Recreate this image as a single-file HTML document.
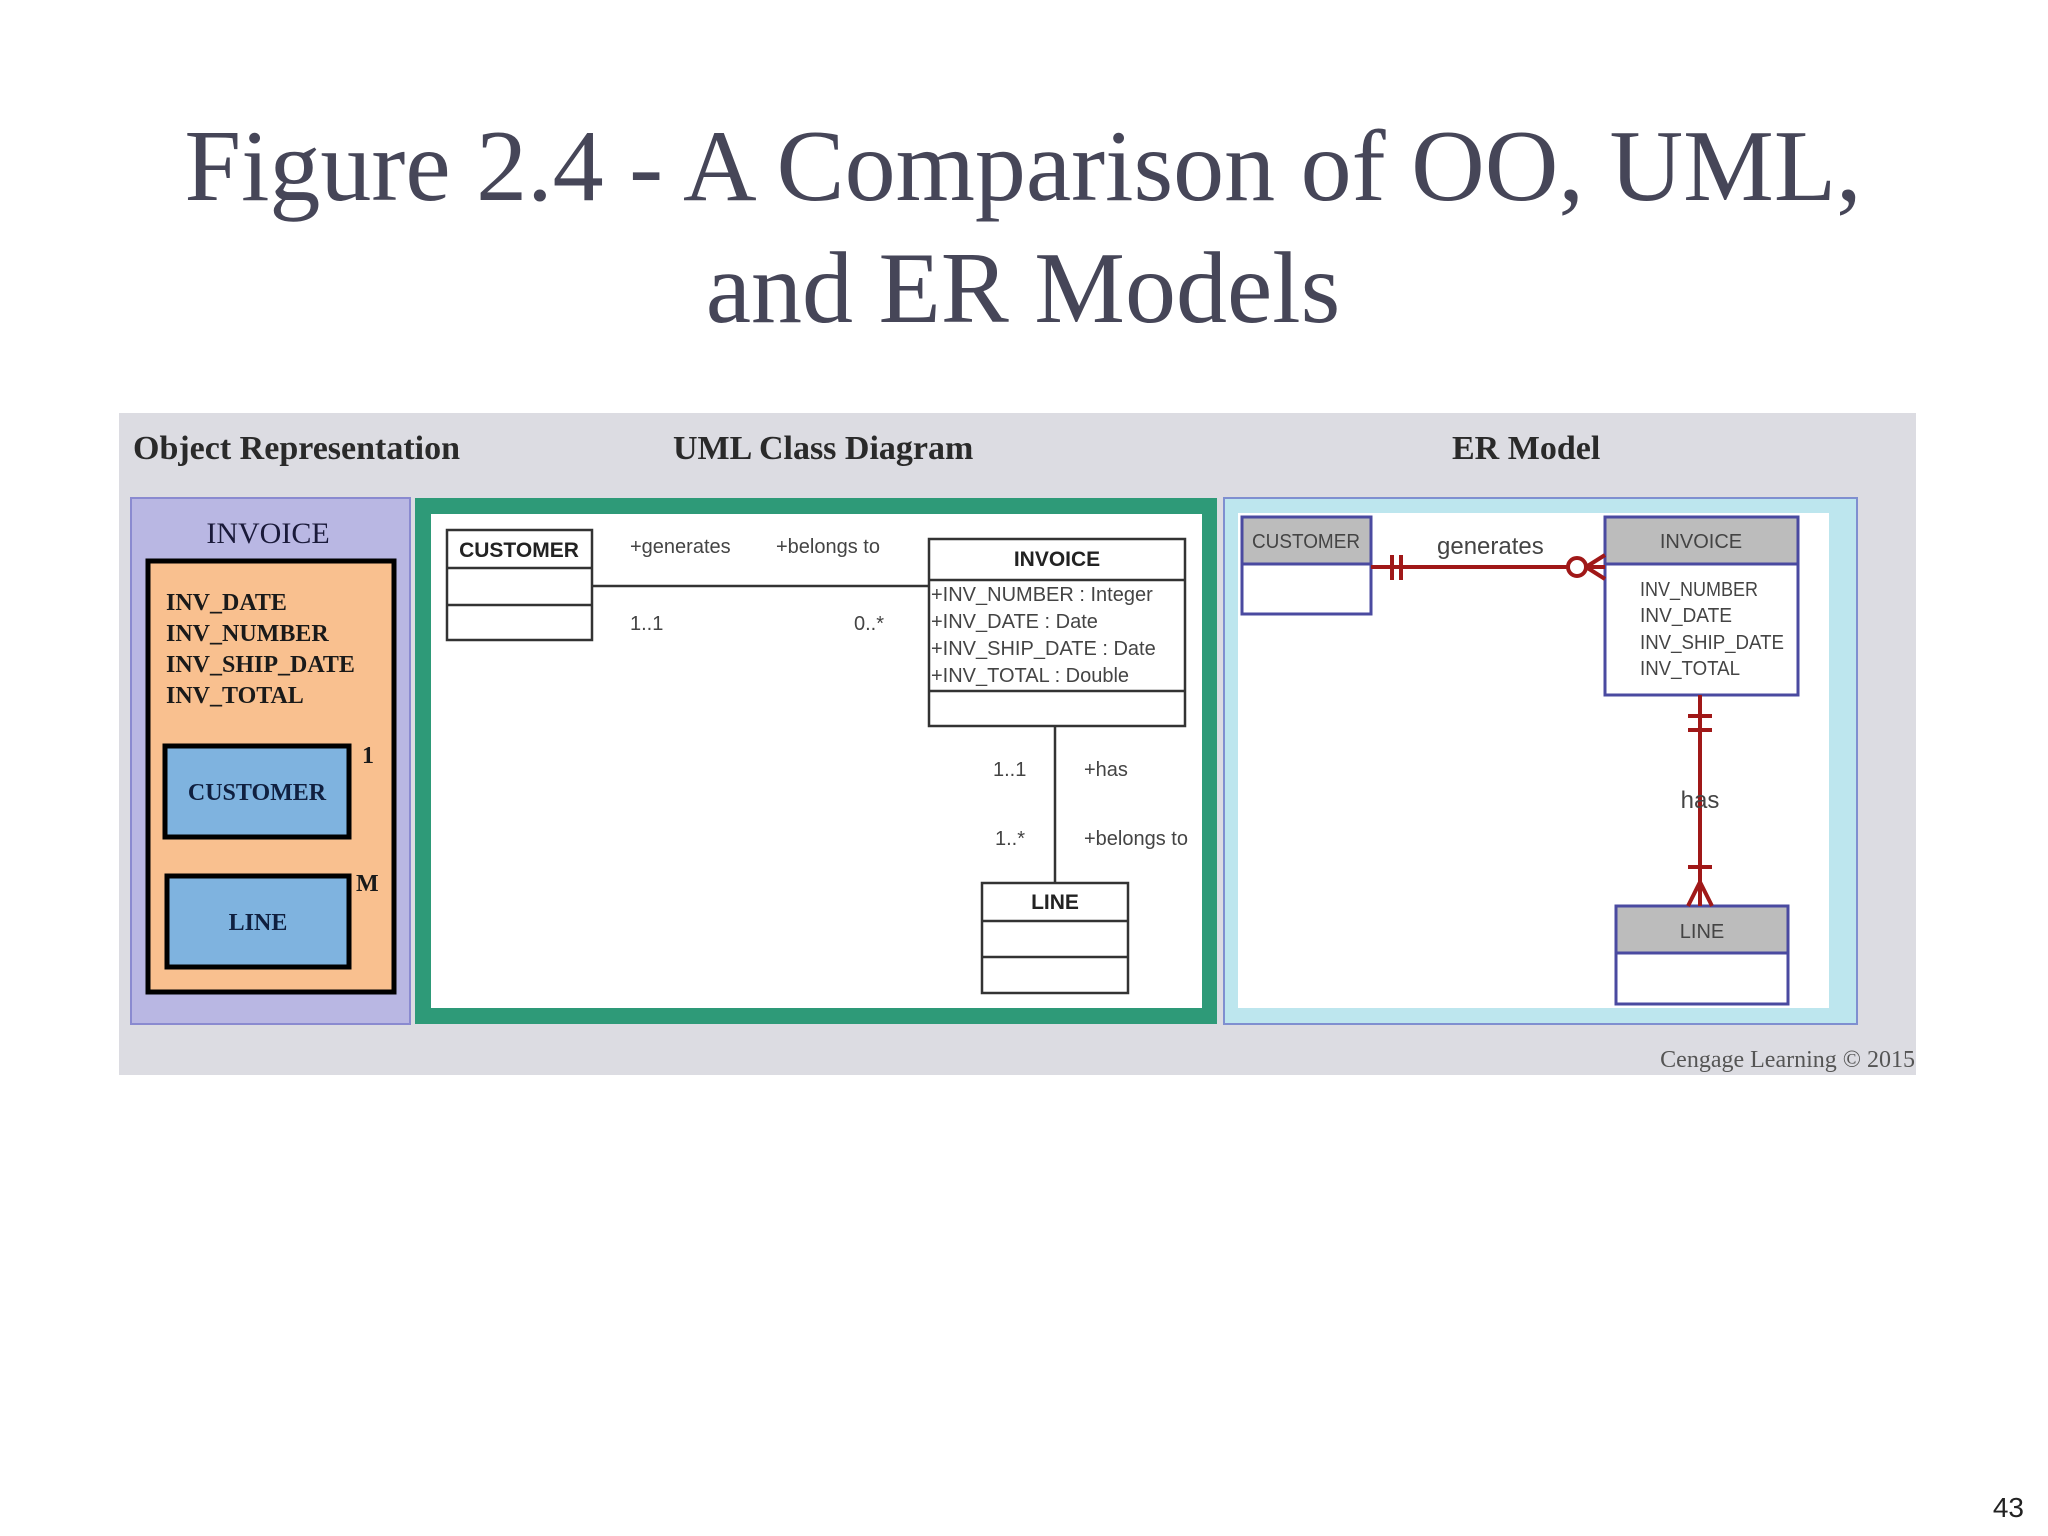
<!DOCTYPE html>
<html><head><meta charset="utf-8"><style>
html,body{margin:0;padding:0;background:#fff;width:2048px;height:1536px;overflow:hidden}
</style></head><body>
<svg width="2048" height="1536" viewBox="0 0 2048 1536" xmlns="http://www.w3.org/2000/svg">
<rect width="2048" height="1536" fill="#fff"/>
<g font-family="Liberation Serif, serif" fill="#464658" font-size="102" text-anchor="middle">
<text x="1023" y="200">Figure 2.4 - A Comparison of OO, UML,</text>
<text x="1023" y="322">and ER Models</text>
</g>
<text x="2024" y="1517" font-family="Liberation Sans, sans-serif" font-size="28" fill="#222" text-anchor="end">43</text>

<rect x="119" y="413" width="1797" height="662" fill="#dcdce2"/>
<g font-family="Liberation Serif, serif" font-size="34" font-weight="bold" fill="#2a2a2a">
<text x="133" y="459">Object Representation</text>
<text x="673" y="459">UML Class Diagram</text>
<text x="1452" y="459">ER Model</text>
</g>
<text x="1915" y="1067" font-family="Liberation Serif, serif" font-size="24" fill="#555" text-anchor="end">Cengage Learning © 2015</text>

<rect x="131" y="498" width="279" height="526" fill="#b9b7e3" stroke="#8a8ad0" stroke-width="2"/>
<text x="268" y="543" font-family="Liberation Serif, serif" font-size="30" fill="#1a1a3a" text-anchor="middle">INVOICE</text>
<rect x="148" y="561" width="246" height="431" fill="#f9c08f" stroke="#000" stroke-width="5"/>
<g font-family="Liberation Serif, serif" font-size="24" font-weight="bold" fill="#1a1a1a">
<text x="166" y="610">INV_DATE</text>
<text x="166" y="641">INV_NUMBER</text>
<text x="166" y="672">INV_SHIP_DATE</text>
<text x="166" y="703">INV_TOTAL</text>
<text x="362" y="763">1</text>
<text x="356" y="891">M</text>
</g>
<rect x="165" y="746" width="184" height="91" fill="#7fb3df" stroke="#000" stroke-width="5"/>
<rect x="167" y="876" width="182" height="91" fill="#7fb3df" stroke="#000" stroke-width="5"/>
<g font-family="Liberation Serif, serif" font-size="24" font-weight="bold" fill="#102040" text-anchor="middle">
<text x="257" y="800">CUSTOMER</text>
<text x="258" y="930">LINE</text>
</g>

<rect x="415" y="498" width="802" height="526" fill="#2e9a78"/>
<rect x="431" y="514" width="771" height="494" fill="#fff"/>
<g fill="#fff" stroke="#333" stroke-width="2.5">
<rect x="447" y="530" width="145" height="110"/>
<line x1="447" y1="568" x2="592" y2="568"/>
<line x1="447" y1="605" x2="592" y2="605"/>
<rect x="929" y="539" width="256" height="187"/>
<line x1="929" y1="580" x2="1185" y2="580"/>
<line x1="929" y1="691" x2="1185" y2="691"/>
<rect x="982" y="883" width="146" height="110"/>
<line x1="982" y1="921" x2="1128" y2="921"/>
<line x1="982" y1="957" x2="1128" y2="957"/>
<line x1="592" y1="586" x2="929" y2="586"/>
<line x1="1055" y1="726" x2="1055" y2="883"/>
</g>
<g font-family="Liberation Sans, sans-serif" fill="#222">
<g font-size="21" font-weight="bold" text-anchor="middle">
<text x="519" y="557">CUSTOMER</text>
<text x="1057" y="566">INVOICE</text>
<text x="1055" y="909">LINE</text>
</g>
<g font-size="20" fill="#444">
<text x="630" y="553">+generates</text>
<text x="776" y="553">+belongs to</text>
<text x="630" y="630">1..1</text>
<text x="854" y="630">0..*</text>
<text x="931" y="601">+INV_NUMBER : Integer</text>
<text x="931" y="628">+INV_DATE : Date</text>
<text x="931" y="655">+INV_SHIP_DATE : Date</text>
<text x="931" y="682">+INV_TOTAL : Double</text>
<text x="993" y="776">1..1</text>
<text x="1084" y="776">+has</text>
<text x="995" y="845">1..*</text>
<text x="1084" y="845">+belongs to</text>
</g>
</g>

<rect x="1224" y="498" width="633" height="526" fill="#bde6ee" stroke="#7f8fd0" stroke-width="2"/>
<rect x="1238" y="513" width="591" height="495" fill="#fff"/>
<g stroke="#4a4aa0" stroke-width="3">
<rect x="1242" y="517" width="129" height="97" fill="#fff"/>
<rect x="1242" y="517" width="129" height="47" fill="#bcbcbc"/>
<rect x="1605" y="517" width="193" height="178" fill="#fff"/>
<rect x="1605" y="517" width="193" height="47" fill="#bcbcbc"/>
<rect x="1616" y="906" width="172" height="98" fill="#fff"/>
<rect x="1616" y="906" width="172" height="47" fill="#bcbcbc"/>
</g>
<g stroke="#a01818" stroke-width="4" fill="none">
<line x1="1371" y1="567" x2="1568" y2="567"/>
<line x1="1392" y1="555" x2="1392" y2="580"/>
<line x1="1401" y1="555" x2="1401" y2="580"/>
<circle cx="1577" cy="567" r="9" fill="#fff"/>
<line x1="1586" y1="567" x2="1605" y2="567"/>
<line x1="1586" y1="567" x2="1605" y2="555"/>
<line x1="1586" y1="567" x2="1605" y2="579"/>
<line x1="1700" y1="695" x2="1700" y2="906"/>
<line x1="1688" y1="716" x2="1712" y2="716"/>
<line x1="1688" y1="730" x2="1712" y2="730"/>
<line x1="1688" y1="867" x2="1712" y2="867"/>
<line x1="1700" y1="882" x2="1688" y2="906"/>
<line x1="1700" y1="882" x2="1712" y2="906"/>
</g>
<g font-family="Liberation Sans, sans-serif" fill="#444" font-size="20">
<text x="1306" y="548" text-anchor="middle" textLength="108" lengthAdjust="spacingAndGlyphs">CUSTOMER</text>
<text x="1701" y="548" text-anchor="middle">INVOICE</text>
<text x="1702" y="938" text-anchor="middle">LINE</text>
<text x="1437" y="554" font-size="24">generates</text>
<text x="1640" y="596" textLength="118" lengthAdjust="spacingAndGlyphs">INV_NUMBER</text>
<text x="1640" y="622" textLength="92" lengthAdjust="spacingAndGlyphs">INV_DATE</text>
<text x="1640" y="649" textLength="144" lengthAdjust="spacingAndGlyphs">INV_SHIP_DATE</text>
<text x="1640" y="675" textLength="100" lengthAdjust="spacingAndGlyphs">INV_TOTAL</text>
<text x="1700" y="808" text-anchor="middle" font-size="24">has</text>
</g>
</svg>
</body></html>
